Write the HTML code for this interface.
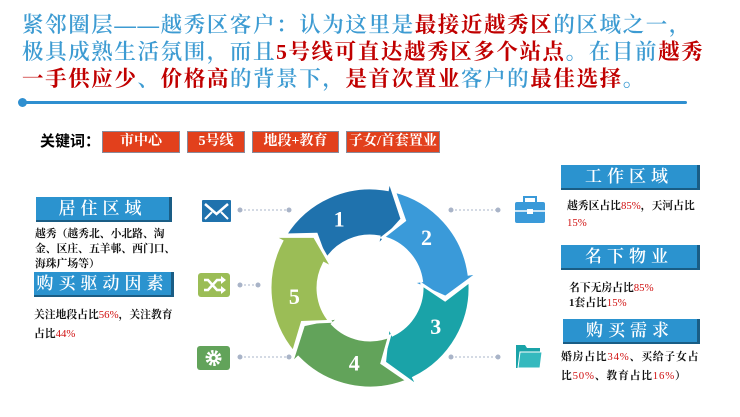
<!DOCTYPE html>
<html><head><meta charset="utf-8"><style>
body{margin:0;width:740px;height:417px;background:#fff;position:relative;overflow:hidden;font-family:"Liberation Serif","Noto Serif CJK SC",serif}
.t{position:absolute;left:22px;font-size:21.5px;letter-spacing:1.6px;color:#3d9bd2;font-weight:600;white-space:nowrap;line-height:27px}
.r{color:#c00000;font-weight:700}
.kw{position:absolute;top:131px;height:20px;background:#e2401c;border:1px solid #8a8a9a;color:#fff;font-size:14px;text-align:center;line-height:20px;font-weight:700}
.hd{position:absolute;height:23px;background:#2b93cf;border-right:3px solid #1a5d85;border-bottom:2px solid #1a5d85;color:#fff;font-size:17px;letter-spacing:5px;text-align:center;line-height:23px;font-family:"Liberation Serif","Noto Serif CJK SC",serif;font-weight:600}
.tx{position:absolute;font-size:10.8px;font-weight:700;color:#111;line-height:17px;white-space:nowrap}
.tx b{color:#d01010;font-weight:400}
</style></head><body>
<div class="t" style="top:12px">紧邻圈层——越秀区客户：认为这里是<span class="r">最接近越秀区</span>的区域之一，</div>
<div class="t" style="top:39px">极具成熟生活氛围，而且<span class="r">5号线可直达越秀区多个站点</span>。在目前<span class="r">越秀</span></div>
<div class="t" style="top:66px"><span class="r">一手供应少</span>、<span class="r">价格高</span>的背景下，<span class="r">是首次置业</span>客户的<span class="r">最佳选择</span>。</div>
<div style="position:absolute;left:22px;top:101px;width:665px;height:3px;background:#2f8fd0;border-radius:2px"></div>
<div style="position:absolute;left:18px;top:98px;width:9px;height:9px;background:#2f8fd0;border-radius:50%"></div>

<div style="position:absolute;left:40px;top:131px;font-size:15px;font-weight:700;line-height:22px;font-family:'Liberation Sans','Noto Sans CJK SC',sans-serif">关键词：</div>
<div class="kw" style="left:102px;width:76px">市中心</div>
<div class="kw" style="left:187px;width:56px">5号线</div>
<div class="kw" style="left:252px;width:85px">地段+教育</div>
<div class="kw" style="left:346px;width:92px">子女/首套置业</div>

<div class="hd" style="left:36px;top:197px;width:133px">居住区域</div>
<div class="tx" style="left:35px;top:227px;line-height:15px">越秀（越秀北、小北路、淘<br>金、区庄、五羊邨、西门口、<br>海珠广场等）</div>
<div class="hd" style="left:34px;top:272px;width:137px">购买驱动因素</div>
<div class="tx" style="left:34px;top:306px;line-height:19px">关注地段占比<b>56%</b>，关注教育<br>占比<b>44%</b></div>

<div class="hd" style="left:561px;top:165px;width:136px">工作区域</div>
<div class="tx" style="left:567px;top:198px">越秀区占比<b>85%</b>，天河占比<br><b>15%</b></div>
<div class="hd" style="left:561px;top:245px;width:136px">名下物业</div>
<div class="tx" style="left:569px;top:281px;line-height:15px">名下无房占比<b>85%</b><br>1套占比<b>15%</b></div>
<div class="hd" style="left:563px;top:319px;width:134px">购买需求</div>
<div class="tx" style="left:561px;top:348px;line-height:19px;letter-spacing:0.8px">婚房占比<b>34%</b>、买给子女占<br>比<b>50%</b>、教育占比<b>16%</b>）</div>

<svg width="740" height="417" style="position:absolute;left:0;top:0" id="s">
<g stroke="#a9b4c8" stroke-width="1" stroke-dasharray="2,2" fill="#a9b4c8">
<line x1="240" y1="210" x2="289" y2="210"/><circle cx="240" cy="210" r="2.5" stroke="none"/><circle cx="289" cy="210" r="2.5" stroke="none"/>
<line x1="240" y1="285" x2="258" y2="285"/><circle cx="240" cy="285" r="2.5" stroke="none"/><circle cx="258" cy="285" r="2.5" stroke="none"/>
<line x1="240" y1="357" x2="289" y2="357"/><circle cx="240" cy="357" r="2.5" stroke="none"/><circle cx="289" cy="357" r="2.5" stroke="none"/>
<line x1="451" y1="210" x2="498" y2="210"/><circle cx="451" cy="210" r="2.5" stroke="none"/><circle cx="498" cy="210" r="2.5" stroke="none"/>
<line x1="451" y1="357" x2="498" y2="357"/><circle cx="451" cy="357" r="2.5" stroke="none"/><circle cx="498" cy="357" r="2.5" stroke="none"/>
</g>
<rect x="202" y="200" width="29" height="22" fill="#1f72ad" rx="1"/>
<polyline points="205,204 216.5,214 228,204" fill="none" stroke="#fff" stroke-width="2.5"/>
<line x1="205" y1="219" x2="212" y2="212" stroke="#fff" stroke-width="2"/><line x1="228" y1="219" x2="221" y2="212" stroke="#fff" stroke-width="2"/>
<rect x="198" y="273" width="32" height="24" rx="3" fill="#9bbd56"/>
<path d="M204,280 h4 l9,10 h5 M204,290 h4 l9,-10 h5" fill="none" stroke="#fff" stroke-width="2.5"/>
<path d="M221,276 l5,4 l-5,4z M221,286 l5,4 l-5,4z" fill="#fff"/>
<rect x="197" y="346" width="33" height="24" rx="3" fill="#62a35a"/>
<circle cx="213.5" cy="358" r="6" fill="none" stroke="#fff" stroke-width="4" stroke-dasharray="2.2,1.5"/>
<circle cx="213.5" cy="358" r="4.5" fill="#fff"/><circle cx="213.5" cy="358" r="2" fill="#62a35a"/>
<rect x="515" y="202" width="30" height="21" rx="2" fill="#3a9ad9"/>
<rect x="524" y="197" width="12" height="6" fill="none" stroke="#3a9ad9" stroke-width="2"/>
<line x1="515" y1="211" x2="545" y2="211" stroke="#fff" stroke-width="1.5"/>
<rect x="527" y="209" width="6" height="5" fill="#fff"/>
<path d="M516,345 h9 l2,3 h13 v20 h-24z" fill="#1aa3a8"/>
<path d="M520,352 h22 l-2,16 h-22z" fill="#35b9be" stroke="#fff" stroke-width="1"/>
<g id="ring"></g>
</svg>
<script>
var cx=370,cy=288,R=100,r=52,m=(R+r)/2;
var cols=["#1f72ad","#3a9ad9","#1aa3a8","#62a35a","#9bbd56"];
function p(a,rad){a=(a-90)*Math.PI/180;return (cx+rad*Math.cos(a)).toFixed(1)+","+(cy+rad*Math.sin(a)).toFixed(1);}
var g=document.getElementById("ring"),h="";
for(var k=0;k<5;k++){var s=-58+72*k,e=s+68;
var d="M"+p(s,R)+" A"+R+","+R+" 0 0 1 "+p(e,R)+" L"+p(e,R+10)+" L"+p(e+15,m)+" L"+p(e,r-10)+" L"+p(e,r)+" A"+r+","+r+" 0 0 0 "+p(s,r)+" L"+p(s+13,m)+"Z";
h+='<path d="'+d+'" fill="'+cols[k]+'" stroke="#fff" stroke-width="3" stroke-linejoin="miter"/>';
var t=p(s+34,m).split(",");
h+='<text x="'+t[0]+'" y="'+(+t[1]+8)+'" fill="#fff" font-size="22" font-family="Liberation Serif,serif" font-weight="bold" text-anchor="middle">'+(k+1)+'</text>';}
g.innerHTML=h;
</script>
</body></html>
